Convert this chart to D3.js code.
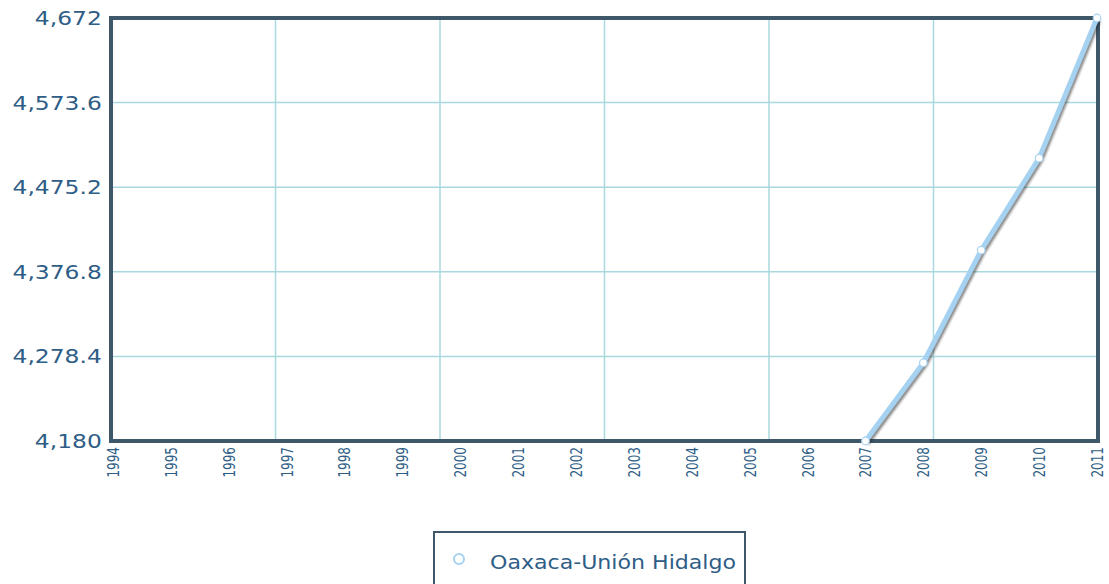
<!DOCTYPE html>
<html>
<head>
<meta charset="utf-8">
<script src="https://cdn.jsdelivr.net/npm/d3@7"></script>
<style>
  html, body { margin: 0; padding: 0; background: #ffffff; }
  svg { display: block; }
</style>
</head>
<body>
<script>
const years = [1994,1995,1996,1997,1998,1999,2000,2001,2002,2003,2004,2005,2006,2007,2008,2009,2010,2011];
const seriesName = "Oaxaca-Unión Hidalgo";
const dataYears = [2007, 2008, 2009, 2010, 2011];
const dataValues = [4180, 4271, 4402, 4509, 4672];
const yTicks = [4180, 4278.4, 4376.8, 4475.2, 4573.6, 4672];

const W = 1109, H = 584;
const plot = { left: 111, right: 1098, top: 18, bottom: 441 };

const svg = d3.select("body").append("svg").attr("width", W).attr("height", H);

const defs = svg.append("defs");
const f = defs.append("filter").attr("id", "shadow").attr("x", "-10%").attr("y", "-10%").attr("width", "120%").attr("height", "120%");
f.append("feGaussianBlur").attr("stdDeviation", 1.2);

const x = d3.scalePoint().domain(years).range([113, 1097]);
const y = d3.scaleLinear().domain([4180, 4672]).range([plot.bottom, plot.top]);

// grid: 6 vertical divisions, horizontal at ticks
const gx = d3.scaleLinear().domain([0, 6]).range([plot.left, plot.right]);
const grid = svg.append("g");
grid.selectAll("line.v").data(d3.range(1, 6)).join("line")
  .attr("x1", d => gx(d)).attr("x2", d => gx(d))
  .attr("y1", plot.top).attr("y2", plot.bottom)
  .attr("stroke", "#a9d9de").attr("stroke-width", 1.5);
grid.selectAll("line.h").data(yTicks.slice(1, -1)).join("line")
  .attr("x1", plot.left).attr("x2", plot.right)
  .attr("y1", d => y(d)).attr("y2", d => y(d))
  .attr("stroke", "#a9d9de").attr("stroke-width", 1.5);

// y axis labels
const yAxis = d3.axisLeft(y).tickValues(yTicks).tickSize(0).tickPadding(7)
  .tickFormat(d => d3.format(",")(Math.round(d * 10) / 10));
const gy = svg.append("g").attr("transform", `translate(${plot.left - 1},0)`).call(yAxis);
gy.select(".domain").remove();
gy.selectAll("text").attr("font-family", "DejaVu Sans, Verdana, sans-serif")
  .attr("font-size", 20).attr("fill", "#2e5d86")
  .attr("transform", "scale(1.17,1)");

// x axis labels
const xAxis = d3.axisBottom(x).tickSize(0).tickPadding(0);
const gxa = svg.append("g").attr("transform", `translate(0,${plot.bottom})`).call(xAxis);
gxa.select(".domain").remove();
gxa.selectAll("text")
  .attr("font-family", "DejaVu Sans, Verdana, sans-serif")
  .attr("font-size", 12).attr("fill", "#2e5d86")
  .attr("text-anchor", "end").attr("dy", "0.35em")
  .attr("transform", "translate(0,6) rotate(-90) scale(1,1.3)")
  .attr("x", 0).attr("y", 0);

// plot border
svg.append("rect")
  .attr("x", plot.left).attr("y", plot.top)
  .attr("width", plot.right - plot.left).attr("height", plot.bottom - plot.top)
  .attr("fill", "none").attr("stroke", "#3f5869").attr("stroke-width", 4);

// line
const pts = dataYears.map((yr, i) => [x(yr), y(dataValues[i])]);
const line = d3.line();
svg.append("path").attr("d", line(pts))
  .attr("transform", "translate(2,2.5)")
  .attr("fill", "none").attr("stroke", "rgba(40,40,40,0.55)").attr("stroke-width", 4)
  .attr("filter", "url(#shadow)");
svg.append("path").attr("d", line(pts))
  .attr("fill", "none").attr("stroke", "#a6d2f2").attr("stroke-width", 5)
  .attr("stroke-linejoin", "round");
svg.selectAll("circle.pt").data(pts).join("circle")
  .attr("cx", d => d[0]).attr("cy", d => d[1]).attr("r", 3.8)
  .attr("fill", "#ffffff").attr("stroke", "#a6d2f2").attr("stroke-width", 1.2);

// legend
const lg = svg.append("g");
lg.append("rect").attr("x", 434).attr("y", 532).attr("width", 311).attr("height", 60)
  .attr("fill", "#ffffff").attr("stroke", "#3f5869").attr("stroke-width", 2);
lg.append("circle").attr("cx", 459).attr("cy", 559).attr("r", 5)
  .attr("fill", "#ffffff").attr("stroke", "#a6d2f2").attr("stroke-width", 2);
lg.append("text").attr("x", 490).attr("y", 569).text(seriesName)
  .attr("font-family", "DejaVu Sans, Verdana, sans-serif").attr("font-size", 20)
  .attr("fill", "#2e5d86")
  .attr("textLength", 246).attr("lengthAdjust", "spacingAndGlyphs");
</script>
</body>
</html>
